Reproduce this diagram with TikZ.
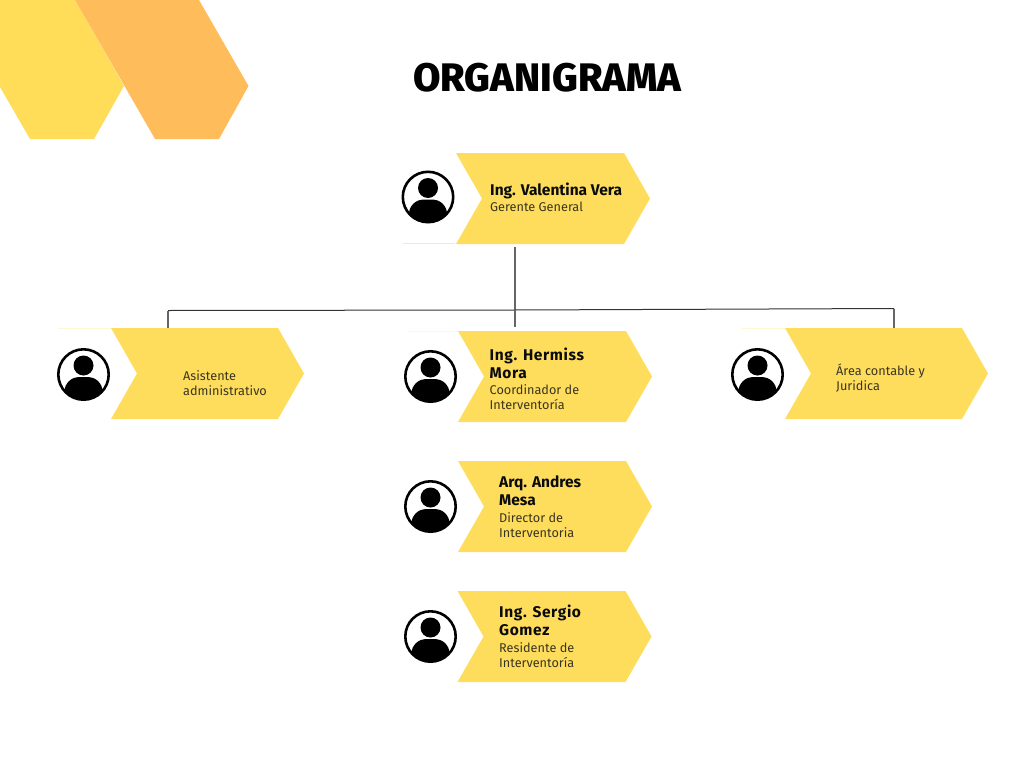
\documentclass[tikz,border=0pt]{standalone}
\usepackage{fontspec}
\setmainfont{Fira Sans}
\newfontfamily\spaced{Fira Sans}
\newfontfamily\wider[LetterSpace=4]{Fira Sans}
\newfontfamily\rolefont{Fira Sans}
\newfontfamily\heavy{Fira Sans ExtraBold}
\definecolor{chevy}{HTML}{FFDD5C}
\definecolor{hexy}{HTML}{FFDD59}
\definecolor{hexo}{HTML}{FFBC5B}
\definecolor{ink}{HTML}{0B0B0B}
\definecolor{subink}{HTML}{3A3520}
\definecolor{wire}{HTML}{333333}
\definecolor{wiregray}{HTML}{666666}
\tikzset{
  x=1pt,y=-1pt,
  chev/.style={fill=chevy,draw=none},
  anchorbox/.style={draw=none,fill=none,inner sep=0pt,minimum height=91pt},
  avatar/.style={circle,draw=black,line width=2.6pt,fill=white,minimum size=50.4pt,inner sep=0pt},
  nametext/.style={anchor=north west,inner sep=0pt,text=ink,align=left,font=\fontsize{15.5}{18}\selectfont\bfseries\spaced},
  namewide/.style={nametext,font=\fontsize{15.5}{18}\selectfont\bfseries\wider},
  roletext/.style={anchor=north west,inner sep=0pt,text=subink,align=left,font=\fontsize{12.7}{15}\selectfont\rolefont},
  wireline/.style={draw=wire,line width=1pt},
  wirevert/.style={draw=wiregray,line width=1.3pt},
}
% #1 name, #2 x of top-left corner, #3 y of top edge, #4 length of top edge
\newcommand{\chevbox}[4]{%
  \fill[chev] (#2,#3) -- ++(#4,0) -- ++(26,45.5) -- ++(-26,45.5) -- ++(-#4,0) -- ++(26,-45.5) -- cycle;
  \node[anchorbox,minimum width=#4pt+26pt] (#1) at (#2+#4/2+13,#3+45.5) {};
}
% #1 name, #2 cx, #3 cy
\newcommand{\person}[3]{%
  \node[avatar] (#1) at (#2,#3) {};
  \begin{scope}
    \clip (#2,#3) circle (25.6);
    \fill[black] (#2,#3-9) circle (10);
    \fill[black] (#2-19,#3+27) -- (#2-19,#3+17) .. controls (#2-19,#3+8) and (#2-11,#3+2.5) .. (#2-5,#3+2.5)
      -- (#2+5,#3+2.5) .. controls (#2+11,#3+2.5) and (#2+19,#3+8) .. (#2+19,#3+17) -- (#2+19,#3+27) -- cycle;
  \end{scope}
}
\begin{document}
\begin{tikzpicture}
\useasboundingbox (0,0) rectangle (1024,768);
\fill[white] (0,0) rectangle (1024,768);
% decoration
\fill[hexy] (0,0) -- (75,0) -- (124,86) -- (94,139) -- (30,139) -- (0,87) -- cycle;
\fill[hexo] (75,0) -- (199,0) -- (248.5,86) -- (219,139) -- (155,139) -- cycle;
\node[inner sep=0pt,text=black,font=\fontsize{39.8}{44}\selectfont\heavy] (title) at (547.5,78) {ORGANIGRAMA};
% connectors
\coordinate (busL) at (168,310.5);
\coordinate (busM) at (515,310);
\coordinate (busR) at (894,308.5);
% boxes
\chevbox{gerente}{456}{153}{168}
\chevbox{asist}{111}{328}{167}
\chevbox{coord}{458}{331}{168}
\chevbox{area}{785}{328}{177}
\chevbox{director}{458}{461}{168}
\chevbox{residente}{457.5}{591}{168}
\draw[wirevert,shorten <=3pt] (gerente.south -| busM) -- (busM);
\draw[wireline] (busL) -- (busM) -- (busR);
\draw[wirevert] (busL) -- (busL |- asist.north);
\draw[wirevert,shorten >=4pt] (busM) -- (busM |- coord.north);
\draw[wirevert] (busR) -- (busR |- area.north);
% faint edges
\draw[chevy!60,line width=.7pt] (403,243.5) -- (455,243.5);
\draw[chevy!25,line width=.7pt] (58,328.5) -- (111,328.5);
\draw[chevy!25,line width=.7pt] (407,331) -- (458,331);
\draw[chevy!25,line width=.7pt] (742,328) -- (785,328);
% avatars
\person{pGerente}{428}{197}
\person{pAsist}{83.5}{374.5}
\person{pCoord}{430.5}{376.5}
\person{pArea}{757.5}{374.5}
\person{pDirector}{430.5}{506.5}
\person{pResidente}{430.5}{636.5}
% labels
\node[nametext] (n1) at (490,183) {Ing. Valentina Vera};
\node[roletext] (r1) at (490,202) {Gerente General};
\node[roletext] (r2) at (183,370.5) {Asistente\\administrativo};
\node[namewide] (n3) at (489.5,348) {Ing. Hermiss\\Mora};
\node[roletext] (r3) at (489.5,384.5) {Coordinador de\\Interventoría};
\node[roletext] (r4) at (836,363.5) {Área contable y\\Juridica};
\node[nametext] (n5) at (499,475.5) {Arq. Andres\\Mesa};
\node[roletext] (r5) at (499,512.5) {Director de\\Interventoria};
\node[namewide] (n6) at (499,605) {Ing. Sergio\\Gomez};
\node[roletext] (r6) at (499,642) {Residente de\\Interventoría};
\end{tikzpicture}
\end{document}
